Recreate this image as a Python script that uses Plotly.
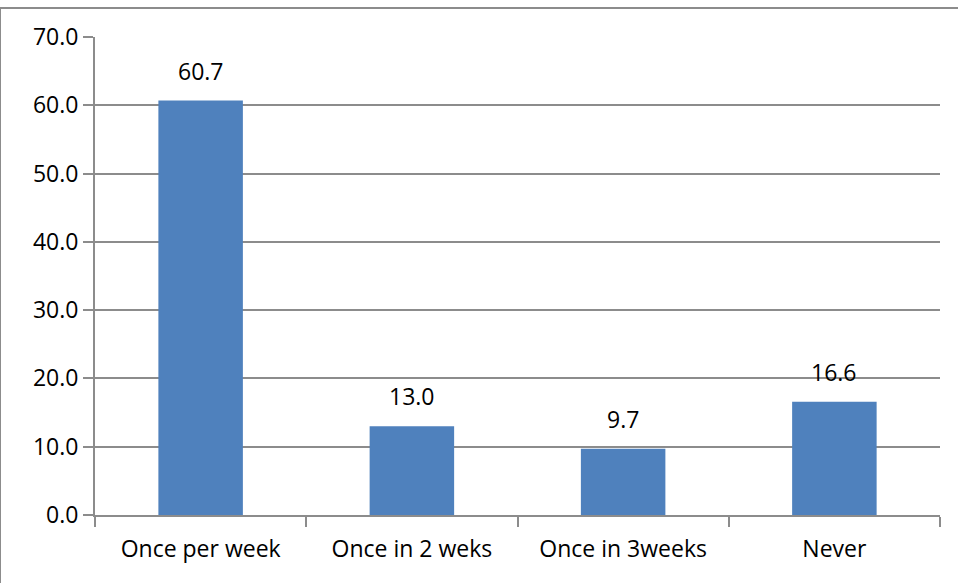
import plotly.graph_objects as go

categories = ["Once per week", "Once in 2 weks", "Once in 3weeks", "Never"]
values = [60.7, 13.0, 9.7, 16.6]
y_ticks = [0, 10, 20, 30, 40, 50, 60, 70]

fig = go.Figure()
fig.add_trace(go.Bar(
    x=categories, y=values,
    marker=dict(color="#4F81BD", line=dict(width=0)),
    cliponaxis=False,
))

annotations = [
    dict(x=c, y=v, xref="x", yref="y", text=f"{v:.1f}", showarrow=False,
         yanchor="bottom", yshift=12, font=dict(size=23, color="black", family="Open Sans"))
    for c, v in zip(categories, values)
]

fig.update_layout(
    width=958, height=583,
    margin=dict(l=95, r=18, t=37, b=68),
    paper_bgcolor="white", plot_bgcolor="white",
    bargap=0.6,
    showlegend=False,
    font=dict(family="Open Sans", size=23, color="black"),
    annotations=annotations,
    shapes=[dict(type="rect", xref="paper", yref="paper",
                 x0=-95/845, x1=1 + 40/845, y0=-100/478, y1=1 + 29/478,
                 line=dict(color="#8c8c8c", width=2), layer="below")],
)
fig.update_xaxes(
    showline=True, linecolor="#8c8c8c", linewidth=2,
    ticks="outside", tickson="boundaries", ticklen=10, tickcolor="#8c8c8c", tickwidth=2,
    showgrid=False, tickfont=dict(size=23), ticklabelstandoff=12,
)
fig.update_yaxes(
    range=[0, 70], tickvals=y_ticks, ticktext=[f"{v:.1f}" for v in y_ticks],
    showline=True, linecolor="#8c8c8c", linewidth=2,
    ticks="outside", ticklen=10, tickcolor="#8c8c8c", tickwidth=2,
    showgrid=True, gridcolor="#8c8c8c", gridwidth=2,
    zeroline=False, tickfont=dict(size=23),
)

fig.write_html("out.html")
